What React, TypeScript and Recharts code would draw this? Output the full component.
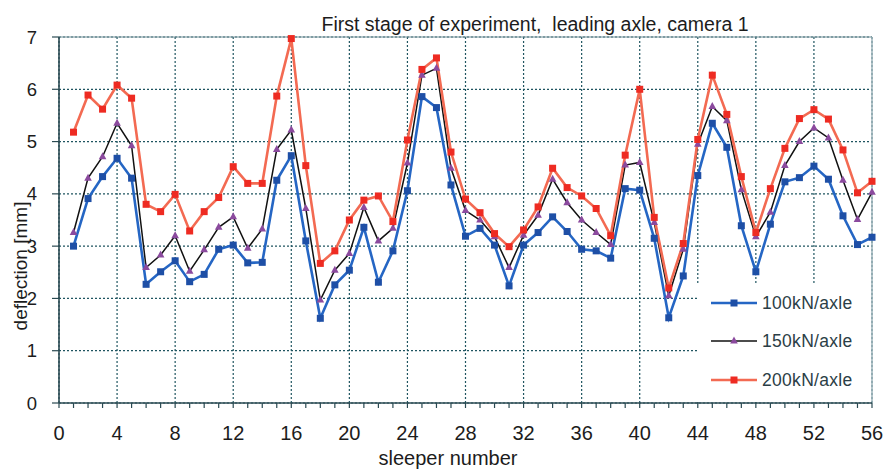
import React from 'react';
import { LineChart, Line, XAxis, YAxis, CartesianGrid, ReferenceLine, Legend } from 'recharts';

const sleepers = [
  1, 2, 3, 4, 5, 6, 7, 8, 9, 10, 11, 12, 13, 14, 15, 16, 17, 18, 19, 20, 21, 22, 23, 24, 25, 26, 27, 28,
  29, 30, 31, 32, 33, 34, 35, 36, 37, 38, 39, 40, 41, 42, 43, 44, 45, 46, 47, 48, 49, 50, 51, 52, 53, 54, 55, 56,
];

const load100 = [
  3.0, 3.91, 4.33, 4.68, 4.3, 2.27, 2.51, 2.72, 2.32, 2.46, 2.94, 3.02, 2.68, 2.69, 4.26, 4.73, 3.1, 1.62,
  2.26, 2.54, 3.36, 2.31, 2.91, 4.06, 5.86, 5.65, 4.17, 3.19, 3.34, 3.02, 2.24, 3.02, 3.26, 3.56, 3.28, 2.94,
  2.91, 2.77, 4.1, 4.07, 3.15, 1.63, 2.43, 4.35, 5.35, 4.89, 3.39, 2.51, 3.42, 4.23, 4.31, 4.53, 4.28, 3.58,
  3.03, 3.17,
];

const load150 = [
  3.26, 4.3, 4.71, 5.35, 4.92, 2.59, 2.83, 3.2, 2.52, 2.93, 3.36, 3.56, 2.96, 3.33, 4.85, 5.22, 3.72, 1.97,
  2.54, 2.86, 3.74, 3.1, 3.34, 4.59, 6.27, 6.4, 4.49, 3.68, 3.5, 3.18, 2.59, 3.21, 3.59, 4.28, 3.83, 3.5,
  3.26, 3.03, 4.55, 4.6, 3.45, 2.05, 2.94, 4.95, 5.67, 5.4, 4.08, 3.18, 3.65, 4.54, 5.0, 5.26, 5.07, 4.26,
  3.51, 4.03,
];

const load200 = [
  5.18, 5.89, 5.62, 6.08, 5.83, 3.8, 3.66, 3.99, 3.29, 3.66, 3.93, 4.52, 4.2, 4.2, 5.87, 6.97, 4.54, 2.67,
  2.91, 3.5, 3.88, 3.96, 3.47, 5.03, 6.38, 6.6, 4.8, 3.9, 3.64, 3.24, 2.99, 3.31, 3.75, 4.49, 4.12, 3.96,
  3.72, 3.2, 4.74, 6.0, 3.55, 2.2, 3.05, 5.04, 6.27, 5.52, 4.33, 3.26, 4.1, 4.87, 5.44, 5.61, 5.43, 4.84,
  4.02, 4.24,
];

const seriesNames = ['100kN/axle', '150kN/axle', '200kN/axle'];

const xTicks = [
  0, 1, 2, 3, 4, 5, 6, 7, 8, 9, 10, 11, 12, 13, 14, 15, 16, 17, 18, 19, 20, 21, 22, 23, 24, 25, 26, 27, 28,
  29, 30, 31, 32, 33, 34, 35, 36, 37, 38, 39, 40, 41, 42, 43, 44, 45, 46, 47, 48, 49, 50, 51, 52, 53, 54, 55, 56,
];
const xLabelTicks = [0, 4, 8, 12, 16, 20, 24, 28, 32, 36, 40, 44, 48, 52, 56];
const yTicks = [0, 1, 2, 3, 4, 5, 6, 7];

const title = 'First stage of experiment,  leading axle, camera 1';
const xTitle = 'sleeper number';
const yTitle = 'deflection [mm]';

const data = sleepers.map((s, i) => ({ x: s, a: load100[i], b: load150[i], c: load200[i] }));

const FONT = '"Liberation Sans", Arial, Helvetica, sans-serif';

const BLUE_LINE = '#2566c4';
const BLUE_MARK = '#1e4fa6';
const BLACK_LINE = '#111111';
const PURPLE_MARK = '#8b4a9e';
const RED_LINE = '#f36a52';
const RED_MARK = '#ee2b22';
const GRID = '#1f5560';
const AXIS = '#2a4a52';
const TEXT = '#1c1c1c';

const squareDot = (color: string, size: number) => (props: any) => {
  const { cx, cy, index } = props;
  if (cx == null || cy == null) return <g key={index} />;
  return <rect key={index} x={cx - size / 2} y={cy - size / 2} width={size} height={size} fill={color} />;
};

const triangleDot = (color: string) => (props: any) => {
  const { cx, cy, index } = props;
  if (cx == null || cy == null) return <g key={index} />;
  return (
    <polygon
      key={index}
      points={`${cx},${cy - 4.5} ${cx - 3.8},${cy + 2.5} ${cx + 3.8},${cy + 2.5}`}
      fill={color}
    />
  );
};

const XTick = (props: any) => {
  const { x, y, payload } = props;
  if (payload.value % 4 !== 0) return <g />;
  return (
    <text x={x} y={y} dy="0.71em" textAnchor="middle" fontSize={20} fill={TEXT} fontFamily={FONT}>
      {payload.value}
    </text>
  );
};

const legendIcon = (i: number) => {
  if (i === 0)
    return (
      <svg width={46} height={12}>
        <line x1={0} y1={6} x2={46} y2={6} stroke={BLUE_LINE} strokeWidth={2.5} />
        <rect x={19.5} y={2.5} width={7} height={7} fill={BLUE_MARK} />
      </svg>
    );
  if (i === 1)
    return (
      <svg width={46} height={12}>
        <line x1={0} y1={6} x2={46} y2={6} stroke={BLACK_LINE} strokeWidth={1.6} />
        <polygon points="23,1.5 19.2,8.5 26.8,8.5" fill={PURPLE_MARK} />
      </svg>
    );
  return (
    <svg width={46} height={12}>
      <line x1={0} y1={6} x2={46} y2={6} stroke={RED_LINE} strokeWidth={2.5} />
      <rect x={19.5} y={2.5} width={7} height={7} fill={RED_MARK} />
    </svg>
  );
};

const LegendContent = () => (
  <div style={{ width: 174, height: 119, background: '#fff', position: 'relative' }}>
    {seriesNames.map((name, i) => (
      <div
        key={name}
        style={{
          position: 'absolute',
          left: 14,
          top: 12 + i * 38.3,
          height: 16,
          display: 'flex',
          alignItems: 'center',
          whiteSpace: 'nowrap',
        }}
      >
        {legendIcon(i)}
        <span
          style={{
            marginLeft: 5,
            fontFamily: FONT,
            fontSize: 17.5,
            color: '#2b3e46',
            letterSpacing: 0.3,
            lineHeight: '16px',
          }}
        >
          {name}
        </span>
      </div>
    ))}
  </div>
);

export default function App() {
  return (
    <div style={{ position: 'absolute', left: 0, top: 0, width: 887, height: 469, background: '#fff' }}>
      <LineChart width={887} height={469} data={data} margin={{ top: 37, right: 15, left: 0, bottom: 0 }}>
        <XAxis
          xAxisId="grid"
          type="number"
          dataKey="x"
          domain={[0, 56]}
          ticks={xLabelTicks}
          hide
        />
        <CartesianGrid xAxisId="grid" stroke={GRID} strokeDasharray="2 2" strokeWidth={1.2} />
        <XAxis
          type="number"
          dataKey="x"
          domain={[0, 56]}
          ticks={xTicks}
          interval={0}
          height={66}
          tickSize={5}
          tickMargin={18}
          tick={<XTick />}
          axisLine={{ stroke: AXIS, strokeWidth: 1.6 }}
          tickLine={{ stroke: AXIS, strokeWidth: 1.2 }}
        />
        <YAxis
          type="number"
          domain={[0, 7]}
          ticks={yTicks}
          width={59}
          tickSize={7}
          tickMargin={15}
          tick={{ fontSize: 18.5, fill: TEXT, fontFamily: FONT }}
          axisLine={{ stroke: AXIS, strokeWidth: 1.6 }}
          tickLine={{ stroke: AXIS, strokeWidth: 1.2 }}
        />
        <ReferenceLine y={7} stroke="#6f8d96" strokeWidth={1.2} />
        <ReferenceLine x={56} stroke="#9db3ba" strokeWidth={1.5} />
        <Line
          dataKey="a"
          name={seriesNames[0]}
          stroke={BLUE_LINE}
          strokeWidth={2.6}
          dot={squareDot(BLUE_MARK, 7)}
          isAnimationActive={false}
        />
        <Line
          dataKey="b"
          name={seriesNames[1]}
          stroke={BLACK_LINE}
          strokeWidth={1.5}
          dot={triangleDot(PURPLE_MARK)}
          isAnimationActive={false}
        />
        <Line
          dataKey="c"
          name={seriesNames[2]}
          stroke={RED_LINE}
          strokeWidth={2.6}
          dot={squareDot(RED_MARK, 7)}
          isAnimationActive={false}
        />
        <Legend
          layout="horizontal"
          verticalAlign="middle"
          align="center"
          content={<LegendContent />}
          wrapperStyle={{ position: 'absolute', left: 697, top: 283, width: 174, height: 119, margin: 0 }}
        />
      </LineChart>
      <svg
        width={887}
        height={469}
        style={{ position: 'absolute', left: 0, top: 0, pointerEvents: 'none' }}
      >
        <text
          x={535}
          y={31}
          textAnchor="middle"
          fontSize={19.5}
          fill={TEXT}
          fontFamily={FONT}
          style={{ whiteSpace: 'pre' }}
        >
          {title}
        </text>
        <text x={448} y={465} textAnchor="middle" fontSize={20} fill={TEXT} fontFamily={FONT}>
          {xTitle}
        </text>
        <text
          transform="translate(27,266) rotate(-90)"
          textAnchor="middle"
          fontSize={19}
          fill={TEXT}
          fontFamily={FONT}
        >
          {yTitle}
        </text>
      </svg>
    </div>
  );
}
